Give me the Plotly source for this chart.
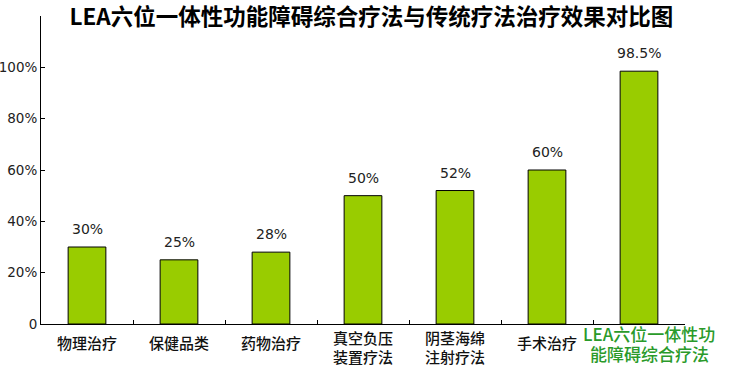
import plotly.graph_objects as go

categories = ["物理治疗", "保健品类", "药物治疗", "真空负压<br>装置疗法", "阴茎海绵<br>注射疗法", "手术治疗", "LEA六位一体性功<br>能障碍综合疗法"]
values = [30, 25, 28, 50, 52, 60, 98.5]
value_labels = ["30%", "25%", "28%", "50%", "52%", "60%", "98.5%"]
ytick_vals = [0, 20, 40, 60, 80, 100, 120]
ytick_text = ["0", "20%", "40%", "60%", "80%", "100%", ""]
title_text = "LEA六位一体性功能障碍综合疗法与传统疗法治疗效果对比图"

cjk = "Noto Sans CJK SC"
x_idx = list(range(len(categories)))

fig = go.Figure()
fig.add_trace(go.Bar(
    x=x_idx, y=values, width=0.41,
    marker=dict(color="#99CC00", line=dict(color="#000000", width=1)),
    hoverinfo="skip",
))

annotations = []
for i, (v, t) in enumerate(zip(values, value_labels)):
    annotations.append(dict(
        x=i, y=v, xref="x", yref="y", text=t, showarrow=False,
        yanchor="bottom", yshift=8,
        font=dict(family="DejaVu Sans", size=14, color="#222222", weight=500),
    ))
for i, c in enumerate(categories):
    last = i == len(categories) - 1
    lines = c.split("<br>")
    if last:
        offsets = [9, 29]
    elif len(lines) == 2:
        offsets = [13, 32]
    else:
        offsets = [18]
    for line, off in zip(lines, offsets):
        annotations.append(dict(
            x=i, y=0, xref="x", yref="paper", text=line, showarrow=False,
            yanchor="middle", yshift=-off, xshift=10 if last else 0,
            font=dict(family=cjk, size=17 if last else 15,
                      color="#2a9a2a" if last else "#111111", weight=500),
        ))

fig.update_layout(
    width=731, height=366,
    margin=dict(l=41, r=46, t=16, b=42, autoexpand=False),
    paper_bgcolor="white", plot_bgcolor="white",
    showlegend=False,
    title=dict(text=title_text, x=0.508, xanchor="center", y=0.954, yanchor="middle",
               yref="container", automargin=False,
               font=dict(family=cjk, size=22.5, color="#000000", weight="bold")),
    annotations=annotations,
    xaxis=dict(
        range=[-0.5, len(categories) - 0.5],
        tickvals=[i - 0.5 for i in range(1, len(categories) + 1)],
        ticktext=[""] * len(categories),
        ticks="inside", ticklen=4, tickcolor="#000000",
        showline=True, linecolor="#000000", linewidth=1,
        showgrid=False, zeroline=False, automargin=False,
    ),
    yaxis=dict(
        range=[0, 120], tickvals=ytick_vals, ticktext=ytick_text,
        ticks="inside", ticklen=4, tickcolor="#000000",
        showline=True, linecolor="#000000", linewidth=1,
        showgrid=False, zeroline=False, automargin=False,
        ticklabelstandoff=0,
        tickfont=dict(family="DejaVu Sans", size=13.5, color="#222222", weight=500),
    ),
)

fig.write_html("out.html", config={"displayModeBar": False},
               post_script="document.body.style.margin='0';")
